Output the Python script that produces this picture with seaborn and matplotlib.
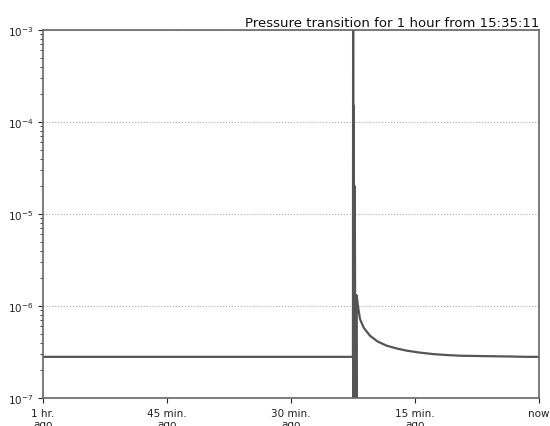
import pandas as pd
import numpy as np
import matplotlib
matplotlib.use("Agg")
import matplotlib.pyplot as plt
import seaborn as sns

# minutes since start of the 1 hour window, and pressure
minutes = [0.0, 10.0, 20.0, 30.0, 37.50, 37.52, 37.56, 37.60, 37.66, 37.72,
           37.80, 37.86, 37.92, 37.95, 38.10, 38.35, 38.8, 39.56, 40.5,
           41.58, 42.8, 44.0, 45.5, 47.18, 48.8, 50.44, 53.5, 56.85, 58.5, 60.0]
pressure = [2.8e-7, 2.8e-7, 2.8e-7, 2.8e-7, 2.8e-7, 3.0e-3, 5.0e-8, 1.5e-4,
            5.0e-8, 2.0e-5, 5.0e-8, 1.3e-6, 5.0e-8, 1.3e-6, 1.0e-6, 7.2e-7,
            5.8e-7, 4.75e-7, 4.1e-7, 3.7e-7, 3.45e-7, 3.27e-7, 3.12e-7, 3.0e-7,
            2.93e-7, 2.88e-7, 2.85e-7, 2.82e-7, 2.8e-7, 2.8e-7]

tick_pos = [0, 15, 30, 45, 60]
tick_labels = ["1 hr.\nago", "45 min.\nago", "30 min.\nago", "15 min.\nago", "now"]
title = "Pressure transition for 1 hour from 15:35:11"

sns.set_style("ticks")
plt.rcParams['font.family'] = ['DejaVu Sans']

df = pd.DataFrame({"t": minutes, "p": pressure})

fig = plt.figure(figsize=(5.5, 4.27), dpi=100)
ax = fig.add_axes([0.078, 0.0656, 0.902, 0.862])
sns.lineplot(data=df, x="t", y="p", ax=ax, color="#555555", linewidth=1.6,
             estimator=None, sort=False)
ax.set_yscale("log")
ax.set_ylim(1e-7, 1e-3)
ax.set_xlim(0, 60)
ax.set_xticks(tick_pos)
ax.set_xticklabels(tick_labels, fontsize=7.5, color="#222222", linespacing=1.1)
ax.tick_params(axis="y", labelsize=7.5, labelcolor="#222222")
ax.set_xlabel("")
ax.set_ylabel("")
ax.yaxis.grid(True, which="major", linestyle=":", color="#aaaaaa", linewidth=0.8)
for s in ax.spines.values():
    s.set_color("#666666")
    s.set_linewidth(1.2)
ax.set_title(title, loc="right", fontsize=9.5, pad=3, color="#111111")

fig.savefig("out.png", dpi=100)
